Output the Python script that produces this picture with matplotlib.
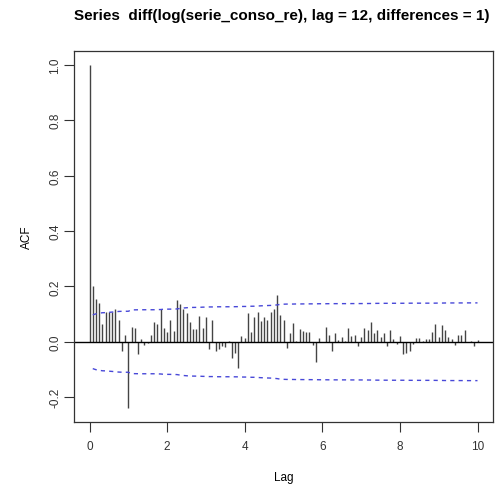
import matplotlib.pyplot as plt
import numpy as np

plt.rcParams['font.family'] = ['Liberation Sans', 'DejaVu Sans']

title = "Series  diff(log(serie_conso_re), lag = 12, differences = 1)"
frequency = 12
n_obs = 408

# autocorrelations, lag 0 .. 120 (months)
acf = [
    1.0, 0.2, 0.154, 0.139, 0.064, 0.106, 0.106, 0.108, 0.12, 0.08,
    -0.033, 0.024, -0.24, 0.055, 0.048, -0.045, 0.01, -0.011, -0.005, 0.024,
    0.072, 0.064, 0.12, 0.048, 0.036, 0.08, 0.04, 0.152, 0.136, 0.118,
    0.102, 0.07, 0.046, 0.046, 0.092, 0.048, 0.088, -0.027, 0.078, -0.033,
    -0.027, -0.016, -0.018, 0.004, -0.057, -0.04, -0.096, 0.021, 0.012, 0.104,
    0.036, 0.09, 0.106, 0.076, 0.088, 0.08, 0.106, 0.12, 0.168, 0.095,
    0.077, -0.023, 0.033, 0.066, 0.004, 0.046, 0.038, 0.036, 0.035, -0.01,
    -0.073, 0.012, -0.002, 0.052, 0.025, -0.032, 0.03, 0.007, 0.016, 0.003,
    0.049, 0.019, 0.024, -0.015, 0.016, 0.05, 0.042, 0.071, 0.03, 0.041,
    0.018, 0.032, -0.014, 0.042, 0.01, -0.008, 0.022, -0.046, -0.04, -0.032,
    -0.008, 0.015, 0.013, 0.003, 0.01, 0.011, 0.034, 0.065, 0.016, 0.06,
    0.043, 0.016, 0.01, -0.01, 0.024, 0.024, 0.043, -0.002, 0.002, -0.015,
    0.006,
]
x_ticks = [0, 2, 4, 6, 8, 10]
y_ticks = [-0.2, 0.0, 0.2, 0.4, 0.6, 0.8, 1.0]

acf = np.array(acf)
lag = np.arange(len(acf)) / frequency

# MA-type confidence band, the way R's plot.acf(ci.type = "ma") builds it
clim0 = 1.959964 / np.sqrt(n_obs)
clim = clim0 * np.sqrt(np.cumsum(np.r_[1, 2 * acf[1:] ** 2]))

fig = plt.figure(figsize=(4.95, 4.89), dpi=100)
ax = fig.add_axes([0.1495, 0.135, 0.8465, 0.7587])

ax.vlines(lag, 0, acf, color='#444444', linewidth=1.0)
ax.axhline(0, color='black', linewidth=1.0)
ax.plot(lag[1:], clim[:-1], color='#4848d8', linestyle=(0, (3, 3)), linewidth=1.0)
ax.plot(lag[1:], -clim[:-1], color='#4848d8', linestyle=(0, (3, 3)), linewidth=1.0)

ax.set_xlim(-0.4, 10.4)
ax.set_ylim(-0.2896, 1.0496)
ax.set_xticks(x_ticks)
ax.set_xticklabels([str(t) for t in x_ticks])
ax.set_yticks(y_ticks)
ax.set_yticklabels([f"{t:.1f}" for t in y_ticks], rotation=90, va='center')
ax.tick_params(direction='out', length=7, width=0.8, colors='#333333',
               labelsize=8.5, pad=6)
ax.tick_params(axis='y', pad=2)
for s in ax.spines.values():
    s.set_color('#333333')
    s.set_linewidth(0.9)

ax.set_xlabel('Lag', fontsize=8.5, labelpad=14)
ax.set_ylabel('ACF', fontsize=8.5, labelpad=12)
fig.suptitle(title, fontsize=11, fontweight='bold', x=0.569, y=0.982, va='top')

fig.savefig('out.png', dpi=100)
